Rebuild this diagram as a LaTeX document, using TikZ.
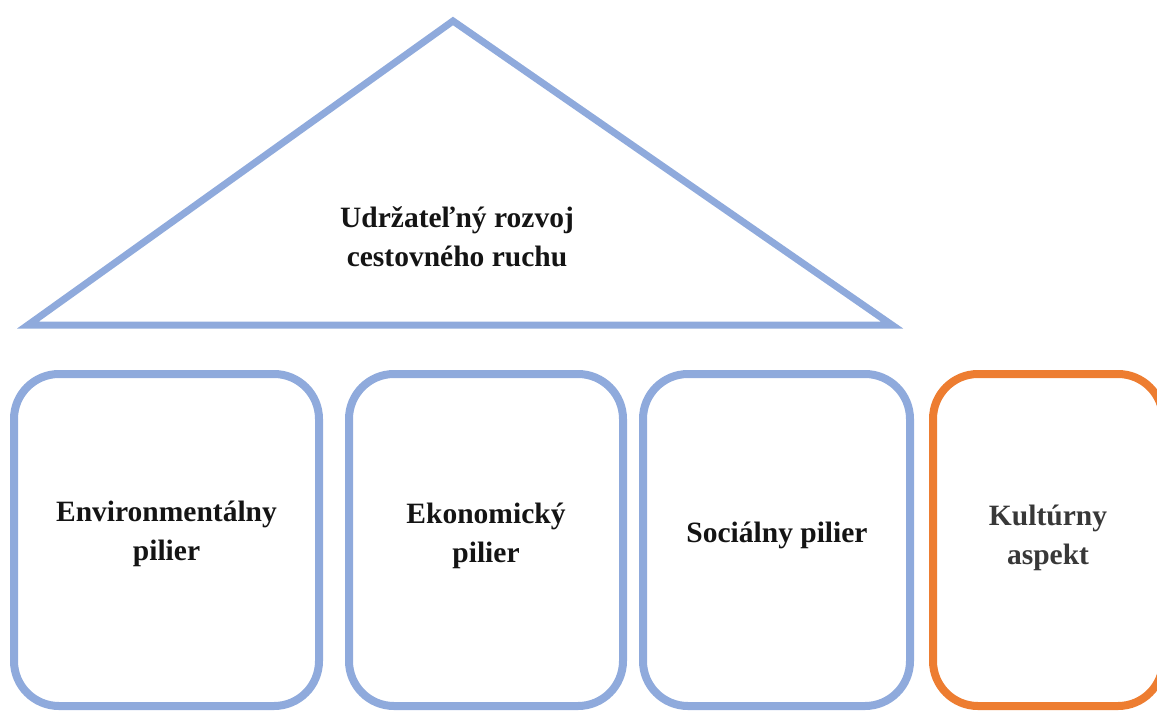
\documentclass[tikz,border=0pt]{standalone}
\usepackage{fontspec}
\setmainfont{Liberation Serif}
\definecolor{pillarblue}{HTML}{8FAADC}
\definecolor{aspectorange}{HTML}{ED7D31}
\definecolor{labeldark}{HTML}{141414}
\definecolor{labelgray}{HTML}{383838}
\begin{document}
\begin{tikzpicture}[x=1pt,y=-1pt,
  pillar/.style={draw=pillarblue,line width=8pt,rounded corners=45pt,
    minimum width=#1,minimum height=332pt,inner sep=0pt},
  labeltext/.style={font=\bfseries\fontsize{29.5}{39}\selectfont,
    text=labeldark,align=center,inner sep=0pt,anchor=base}]
\useasboundingbox (0,0) rectangle (1157,710);
\clip (0,0) rectangle (1157,710);
% roof
\draw[pillarblue,line width=7pt,line join=miter]
  (453,21) coordinate (apex) -- (892,325) coordinate (roofR) -- (28,325) coordinate (roofL) -- cycle;
\node[labeltext] (roof) at (457,266) {Udržateľný rozvoj\\cestovného ruchu};
% pillars
\node[pillar=305pt] (env) at (166.5,540) {};
\node[pillar=274pt] (eko) at (486,540) {};
\node[pillar=267pt] (soc) at (776.5,540) {};
\node[pillar=230pt,draw=aspectorange] (kul) at (1048,540) {};
\node[labeltext] (envt) at (166.5,560) {Environmentálny\\pilier};
\node[labeltext] (ekot) at (486,562) {Ekonomický\\pilier};
\node[labeltext] (soct) at (777,542) {Sociálny pilier};
\node[labeltext,text=labelgray] (kult) at (1048,564) {Kultúrny\\aspekt};
\end{tikzpicture}
\end{document}
